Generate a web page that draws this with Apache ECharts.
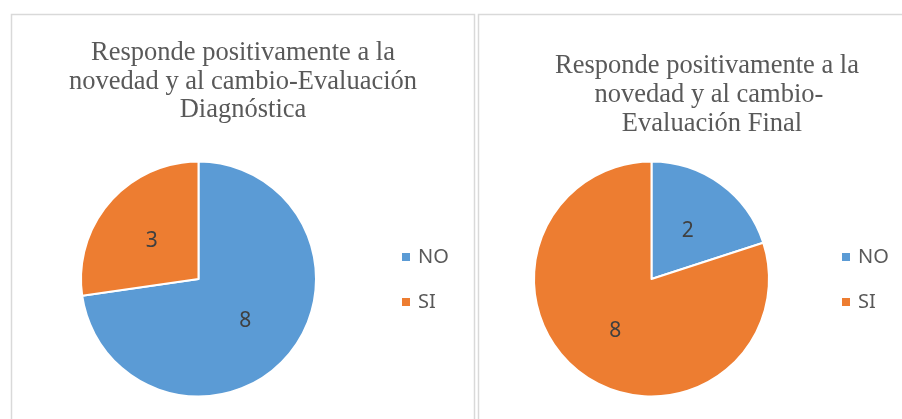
<!DOCTYPE html>
<html>
<head>
<meta charset="utf-8">
<script src="https://cdn.jsdelivr.net/npm/echarts@6/dist/echarts.min.js"></script>
<style>
html,body{margin:0;padding:0;background:#fff;}
#chart{width:902px;height:419px;}
</style>
</head>
<body>
<div id="chart"></div>
<script>
const categories = ['NO', 'SI'];
const diagnosticValues = [8, 3];
const finalValues = [2, 8];
const diagnosticTitle = ['Responde positivamente a la', 'novedad y al cambio-Evaluación', 'Diagnóstica'];
const finalTitle = ['Responde positivamente a la', 'novedad y al cambio-', 'Evaluación Final'];
const colors = ['#5B9BD5', '#ED7D31'];

const chart = echarts.init(document.getElementById('chart'));

function titleLines(lines, cxs, ys) {
  return lines.map((t, i) => ({
    text: t,
    left: cxs[i],
    top: ys[i],
    textAlign: 'center',
    padding: 0,
    textStyle: {fontFamily: 'Liberation Serif', fontSize: 26.5, fontWeight: 'normal', color: '#595959'}
  }));
}

function pieSeries(values, cx) {
  return {
    type: 'pie',
    center: [cx, 279],
    radius: 117.5,
    startAngle: 90,
    clockwise: true,
    avoidLabelOverlap: false,
    emphasis: {scale: false},
    itemStyle: {borderColor: '#ffffff', borderWidth: 2},
    label: {
      show: true, position: 'inside', formatter: '{c}',
      fontFamily: 'Noto Sans', fontSize: 21, color: '#404040', offset: [0, 2]
    },
    labelLine: {show: false},
    data: categories.map((c, i) => ({name: c, value: values[i], itemStyle: {color: colors[i]}}))
  };
}

function legend(left) {
  return {
    orient: 'vertical',
    left: left,
    top: 247,
    padding: 0,
    itemWidth: 10,
    itemHeight: 10,
    itemGap: 25,
    icon: 'rect',
    data: categories,
    textStyle: {fontFamily: 'Noto Sans', fontSize: 20, color: '#595959', padding: [0, 0, 0, 2]}
  };
}

chart.setOption({
  animation: false,
  graphic: [
    {type: 'rect', shape: {x: 11.5, y: 14.5, width: 463, height: 420}, style: {fill: 'none', stroke: '#d9d9d9', lineWidth: 1.5}},
    {type: 'rect', shape: {x: 478.5, y: 14.5, width: 440, height: 420}, style: {fill: 'none', stroke: '#d9d9d9', lineWidth: 1.5}}
  ],
  title: titleLines(diagnosticTitle, [243, 243, 243], [40, 68.5, 97])
    .concat(titleLines(finalTitle, [707, 709, 712], [52.5, 81.5, 111])),
  legend: [legend(400), legend(840)],
  series: [pieSeries(diagnosticValues, 198.5), pieSeries(finalValues, 651.5)]
});
</script>
</body>
</html>
